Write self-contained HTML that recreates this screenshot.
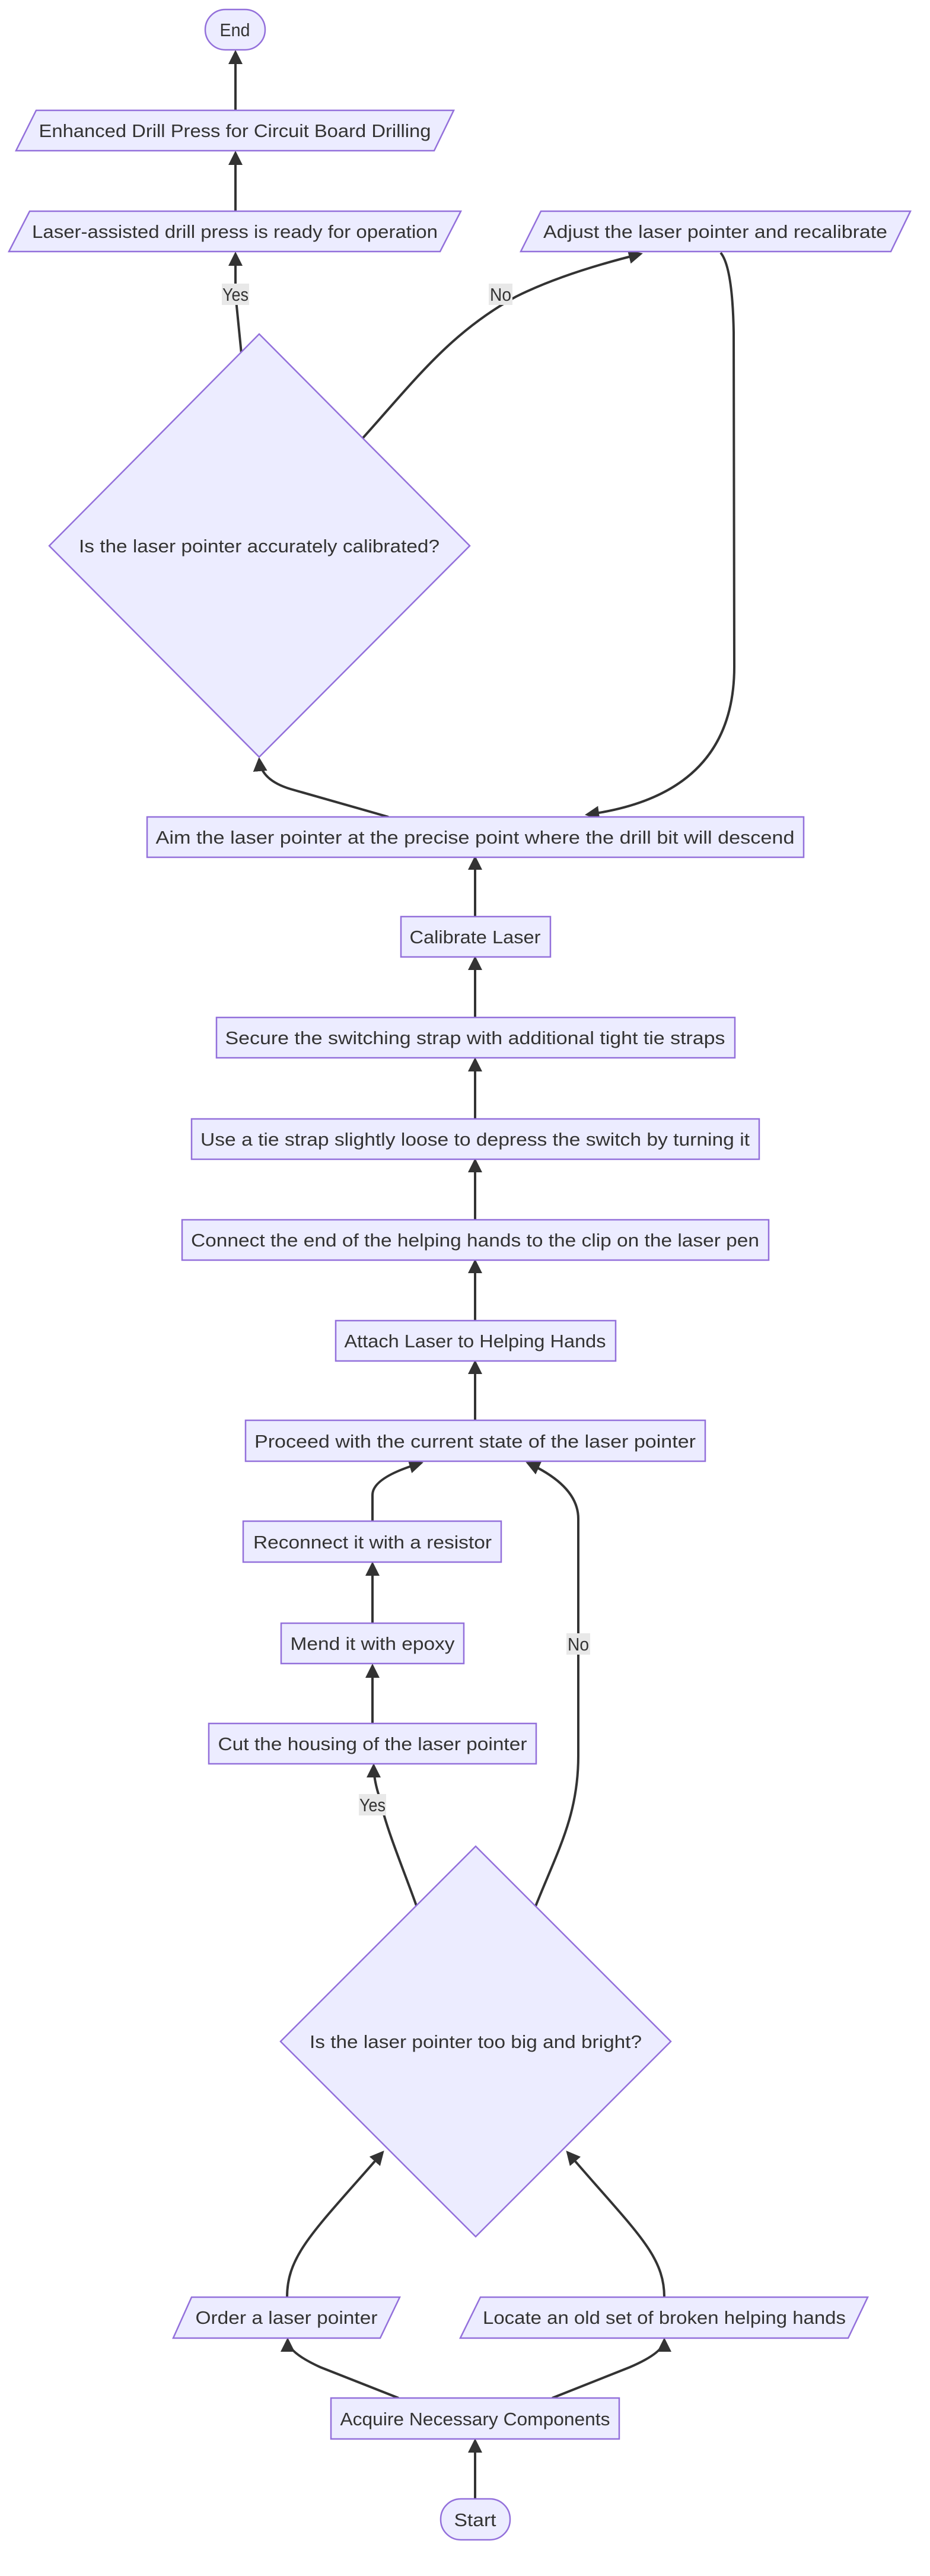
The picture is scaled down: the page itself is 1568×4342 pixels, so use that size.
<!DOCTYPE html>
<html><head><meta charset="utf-8"><style>
html,body{margin:0;padding:0;background:#fff;}
svg{display:block;}
text{font-family:"Liberation Sans","DejaVu Sans",sans-serif;font-size:31px;fill:#333;text-anchor:middle;}
.n{fill:#ECECFF;stroke:#9370DB;stroke-width:2.5;}
.e{fill:none;stroke:#333;stroke-width:4;}
.lb{fill:#e8e8e8;}
</style></head><body>
<svg width="1568" height="4342" viewBox="0 0 1568 4342" xmlns="http://www.w3.org/2000/svg">
<defs>
<marker id="ar" viewBox="0 0 12 12" refX="10" refY="6" markerWidth="24" markerHeight="24" markerUnits="userSpaceOnUse" orient="auto"><path d="M0,0 L12,6 L0,12 z" fill="#333"/></marker>
</defs>

<g class="e">
<path d="M801,4212 L801,4114" marker-end="url(#ar)"/>
<path d="M672,4042 L540,3990 Q485,3965 485,3944" marker-end="url(#ar)"/>
<path d="M931,4042 L1062,3990 Q1120,3965 1120,3944" marker-end="url(#ar)"/>
<path d="M484,3872 C484,3800 530,3760 645,3628" marker-end="url(#ar)"/>
<path d="M1120,3872 C1120,3800 1070,3760 957,3628" marker-end="url(#ar)"/>
<path d="M702,3212 C680,3150 650,3080 640,3030 Q630,3000 630,2976" marker-end="url(#ar)"/>
<path d="M903,3213 C940,3120 975,3060 975,2960 L975,2560 Q975,2505 890,2466" marker-end="url(#ar)"/>
<path d="M628,2905 L628,2808" marker-end="url(#ar)"/>
<path d="M628,2736 L628,2636" marker-end="url(#ar)"/>
<path d="M628,2564 L628,2520 Q628,2490 710,2466" marker-end="url(#ar)"/>
<path d="M801,2394 L801,2296" marker-end="url(#ar)"/>
<path d="M801,2226 L801,2126" marker-end="url(#ar)"/>
<path d="M801,2056 L801,1956" marker-end="url(#ar)"/>
<path d="M801,1886 L801,1786" marker-end="url(#ar)"/>
<path d="M801,1715 L801,1615" marker-end="url(#ar)"/>
<path d="M801,1545 L801,1446" marker-end="url(#ar)"/>
<path d="M655,1377 L490,1330 Q440,1315 437,1280" marker-end="url(#ar)"/>
<path d="M1215,426 Q1235,450 1237,560 L1238,1120 Q1240,1340 990,1373" marker-end="url(#ar)"/>
<path d="M612,738 C700,640 760,560 870,500 Q950,460 1080,428" marker-end="url(#ar)"/>
<path d="M407,596 L397,496 L397,428" marker-end="url(#ar)"/>
<path d="M397,356 L397,258" marker-end="url(#ar)"/>
<path d="M397,186 L397,88" marker-end="url(#ar)"/>
</g>

<rect class="lb" x="374" y="478" width="46" height="36"/><text x="397" y="507" textLength="44" lengthAdjust="spacingAndGlyphs">Yes</text>
<rect class="lb" x="824" y="478" width="40" height="36"/><text x="844" y="507" textLength="36" lengthAdjust="spacingAndGlyphs">No</text>
<rect class="lb" x="605" y="3024" width="46" height="36"/><text x="628" y="3053" textLength="44" lengthAdjust="spacingAndGlyphs">Yes</text>
<rect class="lb" x="955" y="2753" width="40" height="36"/><text x="975" y="2782" textLength="36" lengthAdjust="spacingAndGlyphs">No</text>

<rect class="n" x="346" y="16" width="101" height="68" rx="34" ry="34"/><text x="396" y="61" textLength="51" lengthAdjust="spacingAndGlyphs">End</text>
<polygon class="n" points="61,186 765,186 732,254 27,254"/><text x="396" y="231" textLength="661" lengthAdjust="spacingAndGlyphs">Enhanced Drill Press for Circuit Board Drilling</text>
<polygon class="n" points="50,356 777,356 742,424 15,424"/><text x="396" y="401" textLength="684" lengthAdjust="spacingAndGlyphs">Laser-assisted drill press is ready for operation</text>
<polygon class="n" points="912,356 1535,356 1502,424 878,424"/><text x="1206" y="401" textLength="580" lengthAdjust="spacingAndGlyphs">Adjust the laser pointer and recalibrate</text>
<polygon class="n" points="437,563 792,920 437,1276 83,920"/><text x="437" y="931" textLength="608" lengthAdjust="spacingAndGlyphs">Is the laser pointer accurately calibrated?</text>
<rect class="n" x="248" y="1377" width="1107" height="68"/><text x="801" y="1422" textLength="1077" lengthAdjust="spacingAndGlyphs">Aim the laser pointer at the precise point where the drill bit will descend</text>
<rect class="n" x="676" y="1545" width="252" height="68"/><text x="801" y="1590" textLength="221" lengthAdjust="spacingAndGlyphs">Calibrate Laser</text>
<rect class="n" x="365" y="1715" width="874" height="68"/><text x="801" y="1760" textLength="843" lengthAdjust="spacingAndGlyphs">Secure the switching strap with additional tight tie straps</text>
<rect class="n" x="323" y="1886" width="957" height="68"/><text x="801" y="1931" textLength="926" lengthAdjust="spacingAndGlyphs">Use a tie strap slightly loose to depress the switch by turning it</text>
<rect class="n" x="307" y="2056" width="989" height="68"/><text x="801" y="2101" textLength="958" lengthAdjust="spacingAndGlyphs">Connect the end of the helping hands to the clip on the laser pen</text>
<rect class="n" x="566" y="2226" width="472" height="68"/><text x="801" y="2271" textLength="441" lengthAdjust="spacingAndGlyphs">Attach Laser to Helping Hands</text>
<rect class="n" x="414" y="2394" width="775" height="69"/><text x="801" y="2440" textLength="744" lengthAdjust="spacingAndGlyphs">Proceed with the current state of the laser pointer</text>
<rect class="n" x="410" y="2564" width="435" height="69"/><text x="628" y="2610" textLength="402" lengthAdjust="spacingAndGlyphs">Reconnect it with a resistor</text>
<rect class="n" x="474" y="2736" width="308" height="68"/><text x="628" y="2781" textLength="277" lengthAdjust="spacingAndGlyphs">Mend it with epoxy</text>
<rect class="n" x="352" y="2905" width="552" height="68"/><text x="628" y="2950" textLength="521" lengthAdjust="spacingAndGlyphs">Cut the housing of the laser pointer</text>
<polygon class="n" points="802,3112 1131,3441 802,3770 473,3441"/><text x="802" y="3452" textLength="560" lengthAdjust="spacingAndGlyphs">Is the laser pointer too big and bright?</text>
<polygon class="n" points="323,3872 674,3872 641,3941 292,3941"/><text x="483" y="3917" textLength="307" lengthAdjust="spacingAndGlyphs">Order a laser pointer</text>
<polygon class="n" points="810,3872 1463,3872 1430,3941 776,3941"/><text x="1120" y="3917" textLength="612" lengthAdjust="spacingAndGlyphs">Locate an old set of broken helping hands</text>
<rect class="n" x="558" y="4042" width="486" height="69"/><text x="801" y="4088" textLength="455" lengthAdjust="spacingAndGlyphs">Acquire Necessary Components</text>
<rect class="n" x="743" y="4212" width="117" height="69" rx="34" ry="34"/><text x="801" y="4258" textLength="71" lengthAdjust="spacingAndGlyphs">Start</text>
</svg>
</body></html>
